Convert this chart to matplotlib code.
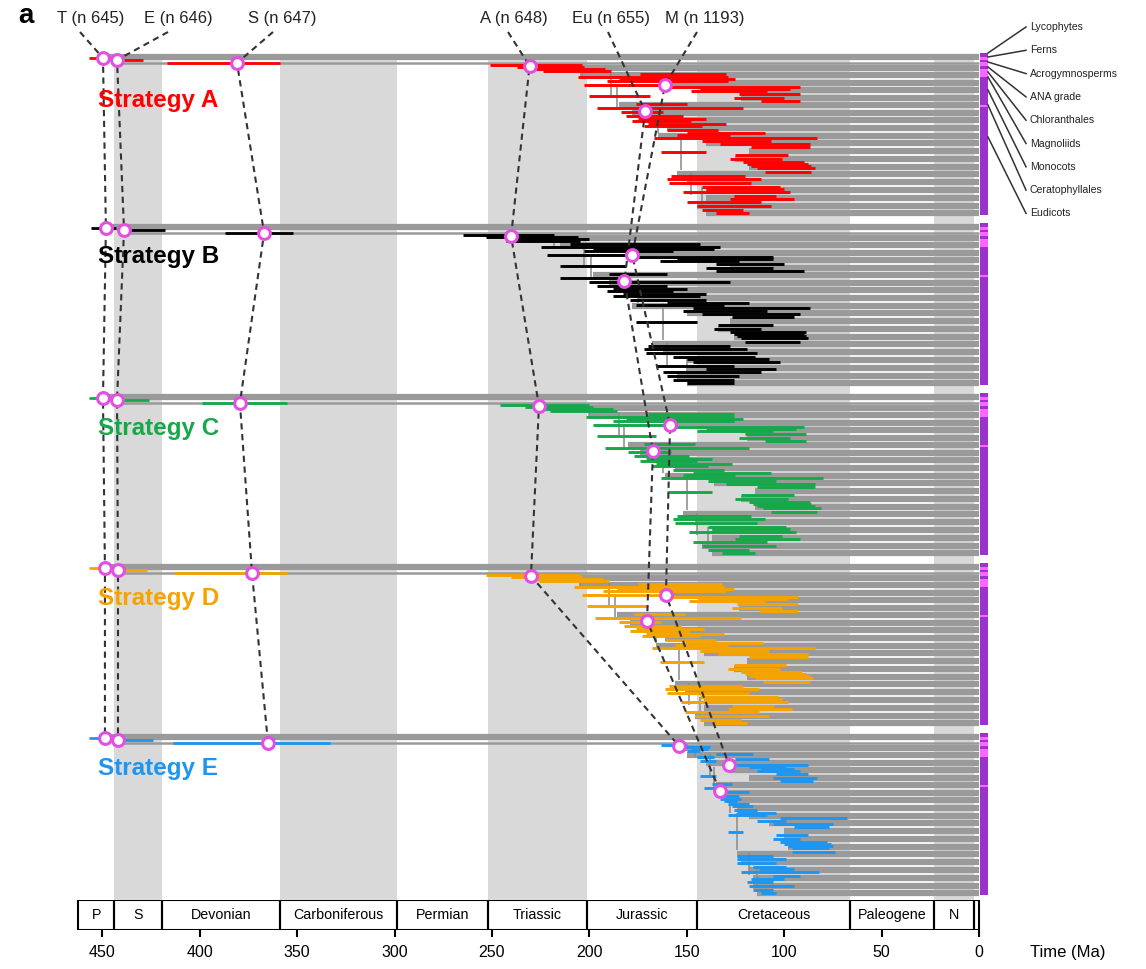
import matplotlib.pyplot as plt
from matplotlib.patches import Rectangle

plt.rcParams['font.family'] = ['Liberation Sans', 'DejaVu Sans']

# ---------------- data ----------------
strategies = ['Strategy A', 'Strategy B', 'Strategy C', 'Strategy D', 'Strategy E']
strategy_colors = ['#ff0000', '#000000', '#17a84b', '#f5a300', '#1e96f0']

marker_names = ['T (n 645)', 'E (n 646)', 'S (n 647)', 'A (n 648)', 'Eu (n 655)', 'M (n 1193)']

# node ages (Ma) of the marked nodes T, E, S, A, Eu, M
mark_age_a = [449.7, 442.5, 380.9, 230.7, 171.4, 161.2]
mark_age_b = [448.2, 438.9, 367.0, 240.2, 182.0, 178.0]
mark_age_c = [449.7, 442.5, 379.4, 225.9, 167.4, 158.6]
mark_age_d = [448.7, 442.0, 373.2, 230.0, 170.4, 160.7]
mark_age_e = [448.7, 442.0, 365.0, 154.0, 133.0, 128.3]

# 95% intervals of the deep nodes T, E, S (old, young pairs)
root_ci_a = [457, 444, 442, 429, 417, 359]
root_ci_b = [456, 443, 440, 418, 387, 352]
root_ci_c = [457, 444, 441, 426, 399, 355]
root_ci_d = [457, 445, 441, 427, 413, 355]
root_ci_e = [457, 445, 440, 424, 414, 333]

# angiosperm node intervals, one value per row in node_row
node_row = [10, 12, 16, 19, 22, 26, 30, 32, 36, 41, 43, 46, 53, 57, 61, 66, 71, 75, 80,
            83, 86, 89, 92, 97, 104, 107, 109, 111, 113, 124, 128, 132, 137, 141, 147, 151, 155,
            14, 24, 34, 39, 49, 64, 69, 78, 100, 117, 121, 134, 144, 158]

ci_old_a = [251, 237, 224, 174, 206, 191, 203, 159, 148, 200, 126, 112, 196, 184, 181, 178, 172, 160, 155,
            167, 142, 133, 117, 163, 128, 121, 119, 117, 114, 160, 159, 142, 152, 126, 150, 145, 142,
            228, 185, 143, 123, 176, 175, 170, 150, 125, 110, 158, 140, 128, 135]
ci_young_a = [204, 203, 189, 130, 129, 129, 159, 92, 109, 169, 100, 92, 121, 162, 152, 148, 142, 134, 128,
              83, 107, 87, 87, 140, 101, 90, 88, 86, 84, 112, 117, 102, 97, 104, 112, 107, 121,
              192, 125, 97, 92, 150, 140, 130, 110, 98, 86, 120, 100, 95, 118]

ci_old_b = [265, 253, 243, 210, 225, 203, 222, 178, 164, 215, 140, 135, 215, 200, 196, 191, 188, 179, 176,
            147, 152, 142, 127, 176, 136, 128, 126, 124, 122, 172, 171, 157, 147, 166, 162, 160, 157,
            240, 198, 155, 135, 190, 188, 183, 160, 134, 120, 170, 150, 140, 150]
ci_young_b = [218, 206, 205, 143, 133, 157, 178, 106, 123, 181, 106, 90, 181, 128, 160, 157, 143, 140, 131,
              87, 109, 92, 95, 145, 112, 89, 90, 89, 88, 119, 114, 115, 102, 126, 112, 123, 126,
              200, 136, 106, 100, 160, 150, 140, 118, 106, 92, 128, 108, 104, 126]

ci_old_c = [246, 233, 220, 170, 202, 188, 198, 156, 145, 196, 123, 110, 192, 180, 177, 174, 168, 157, 152,
            163, 139, 130, 114, 160, 125, 118, 116, 114, 111, 157, 156, 139, 149, 123, 147, 142, 139,
            224, 181, 140, 120, 172, 171, 166, 147, 122, 107, 155, 137, 125, 132]
ci_young_c = [200, 198, 186, 126, 126, 126, 155, 90, 106, 166, 97, 89, 118, 158, 149, 145, 139, 131, 125,
              80, 104, 84, 84, 137, 98, 87, 86, 84, 81, 110, 114, 99, 94, 101, 109, 104, 118,
              188, 121, 94, 89, 146, 137, 127, 107, 95, 83, 117, 97, 92, 115]

ci_old_d = [253, 240, 226, 175, 208, 193, 204, 160, 149, 201, 127, 113, 197, 185, 182, 179, 173, 161, 156,
            168, 143, 134, 118, 164, 129, 122, 120, 118, 115, 161, 160, 143, 153, 127, 151, 146, 143,
            229, 186, 144, 124, 177, 176, 171, 151, 126, 111, 159, 141, 129, 136]
ci_young_d = [205, 204, 190, 132, 131, 130, 160, 93, 110, 170, 101, 93, 122, 163, 153, 149, 143, 135, 129,
              84, 108, 88, 88, 141, 102, 91, 89, 87, 85, 113, 118, 103, 98, 105, 113, 108, 122,
              193, 126, 98, 93, 151, 141, 131, 111, 99, 87, 121, 101, 96, 119]

ci_old_e = [163, 152, 150, 135, 145, 143, 130, 118, 114, 143, 106, 102, 141, 135, 135, 131, 127, 126, 129,
            102, 114, 106, 95, 129, 106, 102, 100, 98, 96, 124, 124, 116, 122, 106, 119, 118, 116,
            148, 125, 112, 104, 137, 133, 129, 124, 104, 96, 124, 113, 117, 112]
ci_young_e = [150, 138, 143, 116, 136, 135, 88, 99, 92, 135, 83, 85, 131, 118, 123, 124, 116, 114, 109,
              68, 99, 75, 77, 121, 92, 78, 76, 75, 77, 99, 104, 99, 82, 92, 106, 95, 106,
              139, 108, 95, 88, 127, 122, 118, 104, 88, 74, 106, 95, 100, 104]

# extant lineages (grey bars): row position and age where each bar starts
tip_row = [1.5, 8, 13, 20, 27.5, 35, 42.5, 50, 57.5, 65, 73, 80.5, 88, 96, 104, 111.5,
           119, 127, 135, 143, 150.5, 157.5]
tip_start_a = [450, 442, 231, 205, 160, 125, 122, 185, 178, 170, 160, 165, 140, 118, 125, 118,
               155, 150, 140, 140, 145, 140]
tip_start_b = [448, 439, 242, 215, 178, 132, 128, 198, 190, 182, 175, 178, 150, 128, 134, 126,
               168, 162, 150, 150, 155, 150]
tip_start_c = [450, 442, 226, 200, 156, 122, 119, 180, 174, 166, 156, 161, 136, 115, 122, 115,
               152, 146, 137, 137, 142, 137]
tip_start_d = [449, 442, 230, 205, 161, 126, 123, 186, 179, 171, 161, 166, 141, 119, 126, 119,
               156, 151, 141, 141, 146, 141]
tip_start_e = [449, 442, 154, 150, 140, 128, 118, 135, 130, 126, 124, 118, 108, 100, 100, 98,
               124, 122, 118, 116, 116, 114]

# vertical branch links: rows spanned and age per strategy
link_top = [12, 18, 32, 60, 78, 118, 132]
link_bottom = [22, 42, 55, 78, 115, 140, 152]
link_age_a = [204, 189, 186, 165, 153, 148, 142]
link_age_b = [218, 203, 199, 175, 162, 160, 150]
link_age_c = [200, 185, 182, 162, 150, 145, 139]
link_age_d = [205, 190, 187, 166, 154, 149, 143]
link_age_e = [146, 138, 136, 128, 124, 118, 114]

# geological time scale
period_names = ['P', 'S', 'Devonian', 'Carboniferous', 'Permian', 'Triassic', 'Jurassic',
                'Cretaceous', 'Paleogene', 'N', '']
period_bounds = [462.5, 443.8, 419.2, 358.9, 298.9, 251.9, 201.3, 145.0, 66.0, 23.0, 2.58, 0.0]
period_shaded = [False, True, False, True, False, True, False, True, False, True, False]

# clades on the right strip (rows) and their colours
strip_from = [-2, 1.5, 5, 7, 11, 14, 22, 50, 52]
strip_to = [1.5, 5, 7, 11, 14, 22, 50, 52, 160]
strip_pink = [False, True, False, True, False, True, False, True, False]
clade_names = ['Lycophytes', 'Ferns', 'Acrogymnosperms', 'ANA grade', 'Chloranthales',
               'Magnoliids', 'Monocots', 'Ceratophyllales', 'Eudicots']
clade_row = [-2, 2, 7, 12, 17, 22, 35, 50, 82]

# ---------------- layout ----------------
W, H = 1146, 969


def px2t(px):
    # horizontal pixel -> age in Ma
    return (979 - px) / 1.948


panel_top = [55, 225, 395, 565, 735]
label_dy = [45, 32, 33, 33, 33]
mark_row = [3, 5, 8, 11, 56, 30]
mark_label_x = [91, 178, 282, 514, 611, 705]
mark_anchor_x = [80, 168, 273, 508, 608, 697]

panels = [
    (mark_age_a, root_ci_a, ci_old_a, ci_young_a, tip_start_a, link_age_a),
    (mark_age_b, root_ci_b, ci_old_b, ci_young_b, tip_start_b, link_age_b),
    (mark_age_c, root_ci_c, ci_old_c, ci_young_c, tip_start_c, link_age_c),
    (mark_age_d, root_ci_d, ci_old_d, ci_young_d, tip_start_d, link_age_d),
    (mark_age_e, root_ci_e, ci_old_e, ci_young_e, tip_start_e, link_age_e),
]

fig = plt.figure(figsize=(W / 100, H / 100), dpi=100)
ax = fig.add_axes([0, 0, 1, 1])
ax.set_xlim(px2t(0), px2t(W))
ax.set_ylim(H, 0)
ax.axis('off')

grey = '#9a9a9a'
band = '#d9d9d9'
pink = '#ff66ff'
purple = '#9933cc'
ring = '#e24fe2'

# period shading
for i, shaded in enumerate(period_shaded):
    if shaded:
        ax.fill_betweenx([57, 900], period_bounds[i], period_bounds[i + 1],
                         color=band, lw=0, zorder=0)

for p, (marks, rci, old, young, tips, links) in enumerate(panels):
    top = panel_top[p]
    col = strategy_colors[p]

    for k, (r, s) in enumerate(zip(tip_row, tips)):
        lw = 1.8 if k == 1 else 4.5
        ax.hlines(top + r, s, 0, color=grey, lw=lw, zorder=1)

    for a, y0, y1 in zip(links, link_top, link_bottom):
        ax.vlines(a, top + y0, top + y1, color='#8a8a8a', lw=1.1, zorder=2)

    ax.hlines(top + mark_row[0], rci[0], rci[1], color=col, lw=2.0, zorder=3)
    ax.hlines(top + mark_row[1], rci[2], rci[3], color=col, lw=2.0, zorder=3)
    ax.hlines(top + mark_row[2], rci[4], rci[5], color=col, lw=2.0, zorder=3)
    for r, o, yg in zip(node_row, old, young):
        ax.hlines(top + r, o, yg, color=col, lw=2.1, zorder=3)

    # clade strip
    for a0, a1, pk in zip(strip_from, strip_to, strip_pink):
        ax.fill_betweenx([top + a0, top + a1], -0.4, -4.6,
                         color=pink if pk else purple, lw=0, zorder=2)

    ax.text(px2t(98), top + label_dy[p], strategies[p], color=col, fontsize=17.5,
            fontweight='bold', va='center', ha='left', zorder=7)

# dashed lines linking the marked nodes across strategies
for m in range(len(marker_names)):
    xs = [px2t(mark_anchor_x[m])] + [pan[0][m] for pan in panels]
    ys = [32] + [panel_top[p] + mark_row[m] for p in range(len(panels))]
    ax.plot(xs, ys, ls=(0, (3, 2.2)), color='#333333', lw=1.5, zorder=5)
    ax.plot(xs[1:], ys[1:], 'o', ms=8.5, mfc='white', mec=ring, mew=2.2, zorder=6)
    ax.text(px2t(mark_label_x[m]), 18, marker_names[m], ha='center', va='center',
            fontsize=12, color='#222222')

# clade labels
for k, name in enumerate(clade_names):
    ly = 27 + k * 23.3
    ax.plot([-4.6, px2t(1026)], [panel_top[0] + clade_row[k], ly], color='#333333', lw=1.1,
            zorder=4)
    ax.text(px2t(1030), ly, name, fontsize=7.6, va='center', ha='left', color='#222222')

ax.text(px2t(1030), 953, 'Time (Ma)', fontsize=12, va='center', ha='left')
fig.text(18 / W, 1 - 16 / H, 'a', fontsize=20, fontweight='bold', va='center', ha='left')

# time scale boxes and axis
axt = fig.add_axes([0, 1 - 930 / H, 1, 30 / H])
axt.set_xlim(px2t(0), px2t(W))
axt.set_ylim(0, 1)
axt.set_frame_on(False)
for i, name in enumerate(period_names):
    o, yg = period_bounds[i], period_bounds[i + 1]
    axt.add_patch(Rectangle((yg, 0), o - yg, 1, fill=False, ec='black', lw=1.5))
    axt.text((o + yg) / 2, 0.5, name, ha='center', va='center', fontsize=10.3)
axt.set_yticks([])
axt.set_xticks([450, 400, 350, 300, 250, 200, 150, 100, 50, 0])
axt.tick_params(axis='x', length=5, width=1.5, labelsize=11.5, pad=6)

fig.savefig('out.png', dpi=100)
